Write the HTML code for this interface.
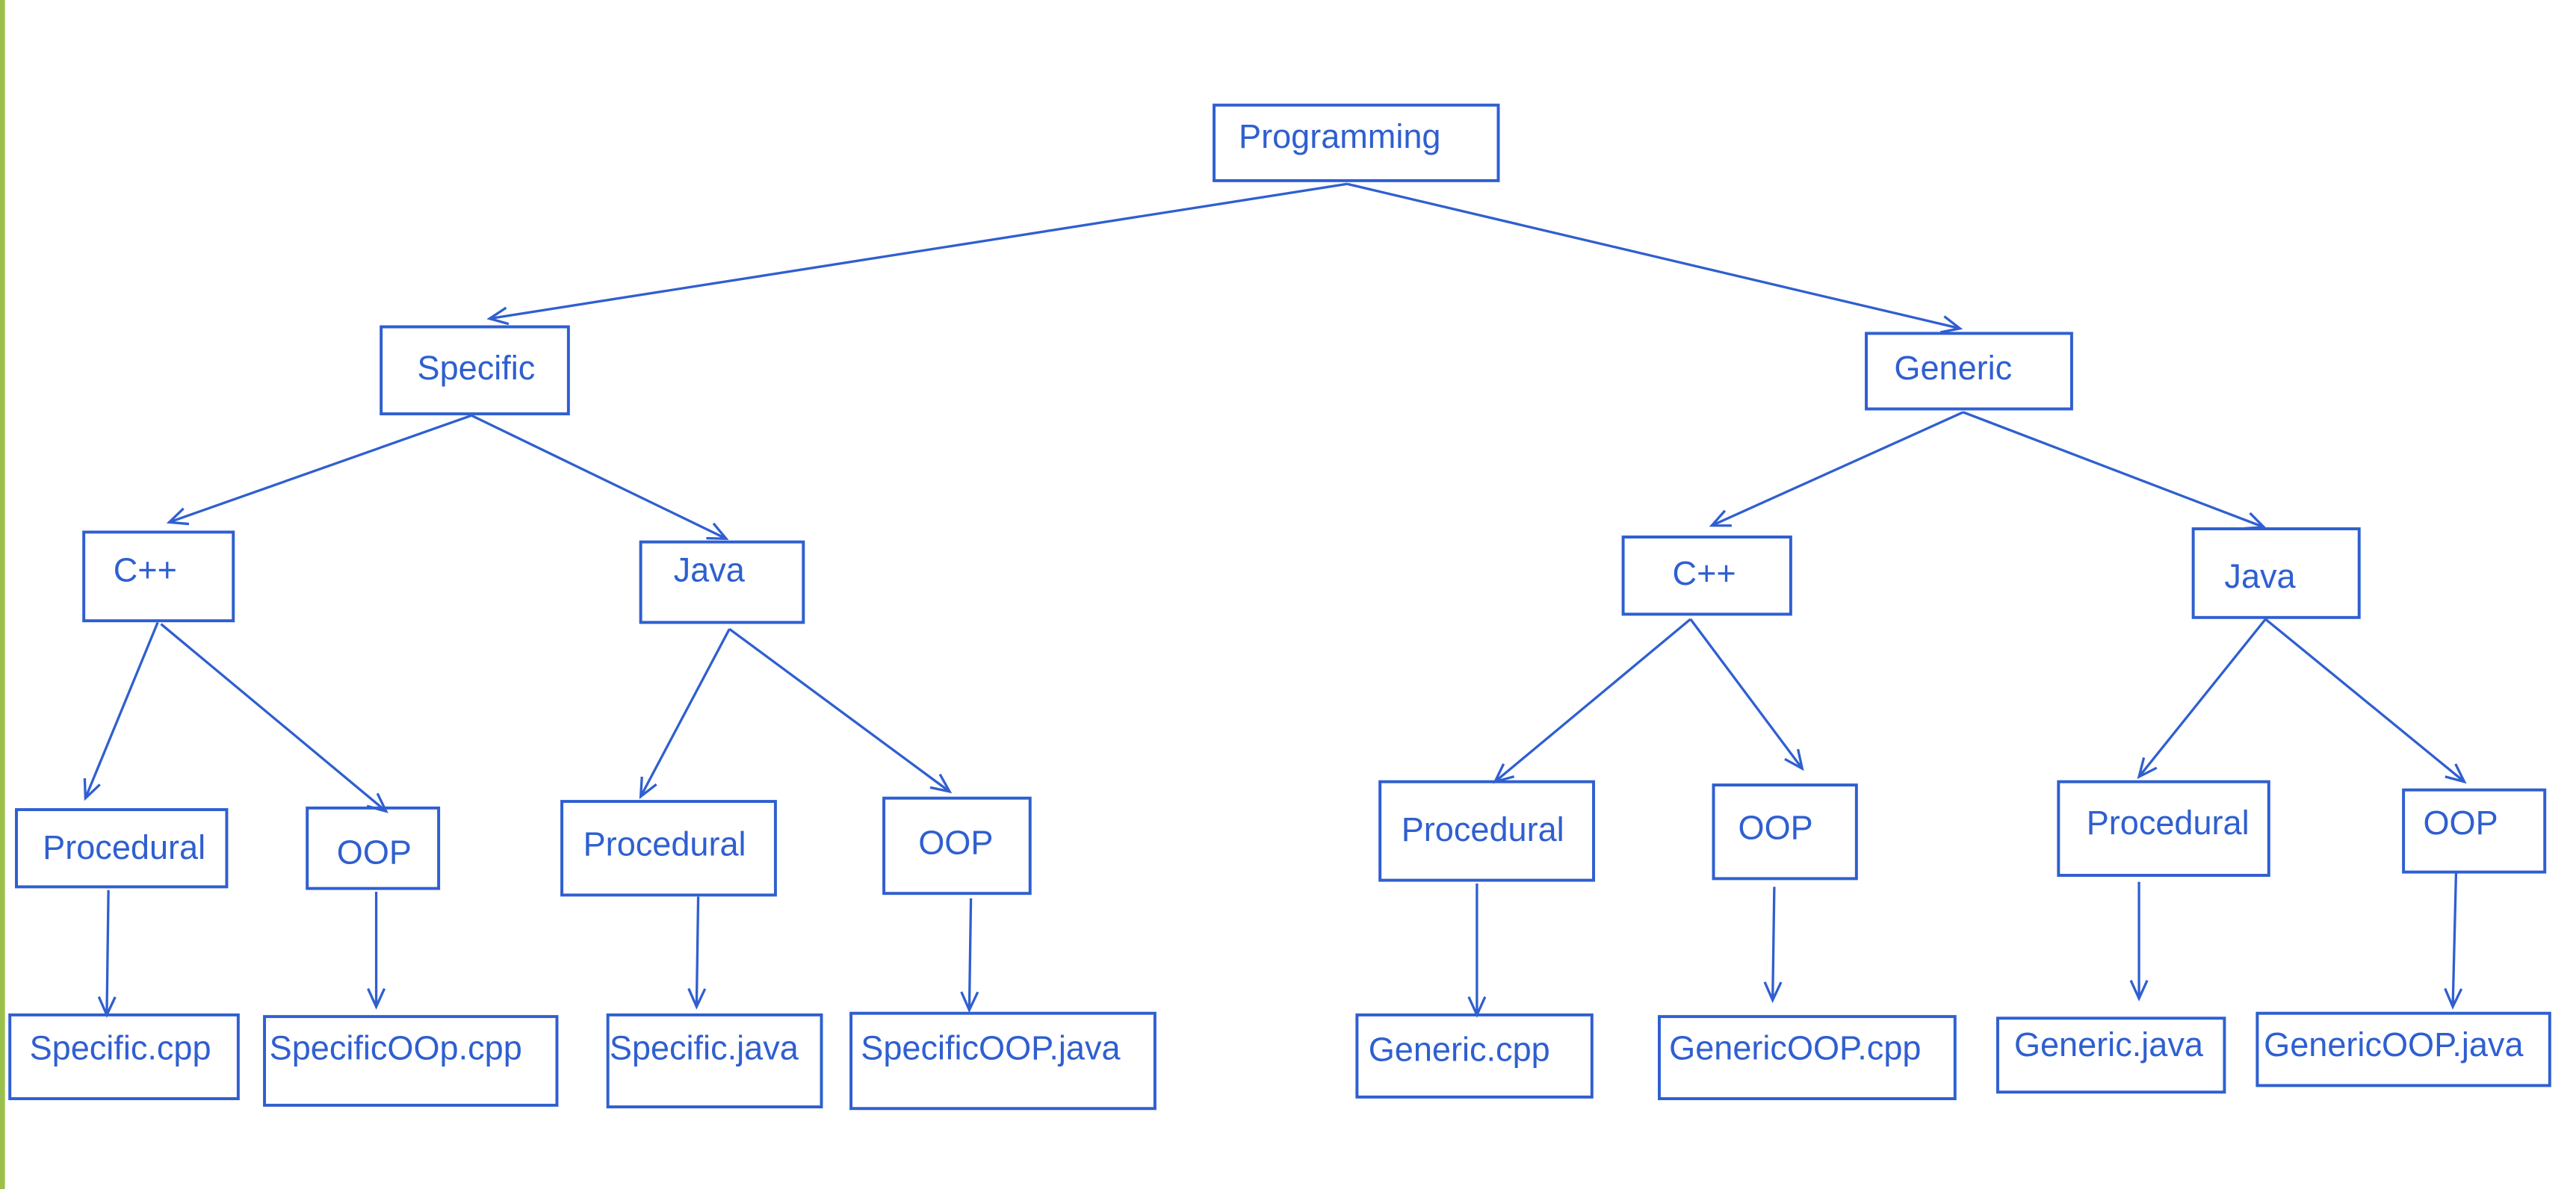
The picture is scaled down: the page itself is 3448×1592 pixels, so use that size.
<!DOCTYPE html>
<html><head><meta charset="utf-8"><style>
html,body{margin:0;padding:0;background:#fff;width:3448px;height:1592px;overflow:hidden}
svg{display:block}
text{font-family:"Liberation Sans",sans-serif;font-size:20.5px;fill:#2f5fd0}
</style></head><body>
<svg width="3448" height="1592" viewBox="0 0 1568 724" preserveAspectRatio="none">
<defs><marker id="a" markerWidth="14" markerHeight="12" refX="12" refY="6" orient="auto" markerUnits="userSpaceOnUse"><path d="M1,1 L12,6 L1,11" fill="none" stroke="#2f5fd0" stroke-width="1.5"/></marker></defs>
<rect x="0" y="0" width="3" height="724" fill="#9bc04a"/>
<g fill="none" stroke="#2f5fd0" stroke-width="1.8">
<rect x="739" y="64" width="173" height="46"/>
<rect x="232" y="199" width="114" height="53"/>
<rect x="1136" y="203" width="125" height="46"/>
<rect x="51" y="324" width="91" height="54"/>
<rect x="390" y="330" width="99" height="49"/>
<rect x="988" y="327" width="102" height="47"/>
<rect x="1335" y="322" width="101" height="54"/>
<rect x="10" y="493" width="128" height="47"/>
<rect x="187" y="492" width="80" height="49"/>
<rect x="342" y="488" width="130" height="57"/>
<rect x="538" y="486" width="89" height="58"/>
<rect x="840" y="476" width="130" height="60"/>
<rect x="1043" y="478" width="87" height="57"/>
<rect x="1253" y="476" width="128" height="57"/>
<rect x="1463" y="481" width="86" height="50"/>
<rect x="6" y="618" width="139" height="51"/>
<rect x="161" y="619" width="178" height="54"/>
<rect x="370" y="618" width="130" height="56"/>
<rect x="518" y="617" width="185" height="58"/>
<rect x="826" y="618" width="143" height="50"/>
<rect x="1010" y="619" width="180" height="50"/>
<rect x="1216" y="620" width="138" height="45"/>
<rect x="1374" y="617" width="178" height="44"/>
</g>
<g stroke="#2f5fd0" stroke-width="1.5" marker-end="url(#a)">
<line x1="820" y1="112" x2="298" y2="194"/>
<line x1="820" y1="112" x2="1193" y2="200"/>
<line x1="287" y1="253" x2="103" y2="318"/>
<line x1="287" y1="253" x2="442" y2="328"/>
<line x1="1195" y1="251" x2="1042" y2="320"/>
<line x1="1195" y1="251" x2="1378" y2="321"/>
<line x1="96" y1="379" x2="52" y2="486"/>
<line x1="98" y1="380" x2="235" y2="494"/>
<line x1="444" y1="383" x2="390" y2="485"/>
<line x1="444" y1="383" x2="578" y2="482"/>
<line x1="1029" y1="377" x2="910" y2="476"/>
<line x1="1029" y1="377" x2="1097" y2="468"/>
<line x1="1379" y1="377" x2="1302" y2="473"/>
<line x1="1379" y1="377" x2="1500" y2="476"/>
<line x1="66" y1="542" x2="65" y2="618"/>
<line x1="229" y1="543" x2="229" y2="613"/>
<line x1="425" y1="546" x2="424" y2="613"/>
<line x1="591" y1="547" x2="590" y2="615"/>
<line x1="899" y1="538" x2="899" y2="618"/>
<line x1="1080" y1="540" x2="1079" y2="609"/>
<line x1="1302" y1="537" x2="1302" y2="608"/>
<line x1="1495" y1="531" x2="1493" y2="613"/>
</g>
<text x="754" y="90">Programming</text>
<text x="254" y="231">Specific</text>
<text x="1153" y="231">Generic</text>
<text x="69" y="354">C++</text>
<text x="410" y="354">Java</text>
<text x="1018" y="356">C++</text>
<text x="1354" y="358">Java</text>
<text x="26" y="523">Procedural</text>
<text x="205" y="526">OOP</text>
<text x="355" y="521">Procedural</text>
<text x="559" y="520">OOP</text>
<text x="853" y="512">Procedural</text>
<text x="1058" y="511">OOP</text>
<text x="1270" y="508">Procedural</text>
<text x="1475" y="508">OOP</text>
<text x="18" y="645">Specific.cpp</text>
<text x="164" y="645">SpecificOOp.cpp</text>
<text x="371" y="645">Specific.java</text>
<text x="524" y="645">SpecificOOP.java</text>
<text x="833" y="646">Generic.cpp</text>
<text x="1016" y="645">GenericOOP.cpp</text>
<text x="1226" y="643">Generic.java</text>
<text x="1378" y="643">GenericOOP.java</text>
</svg>
</body></html>
